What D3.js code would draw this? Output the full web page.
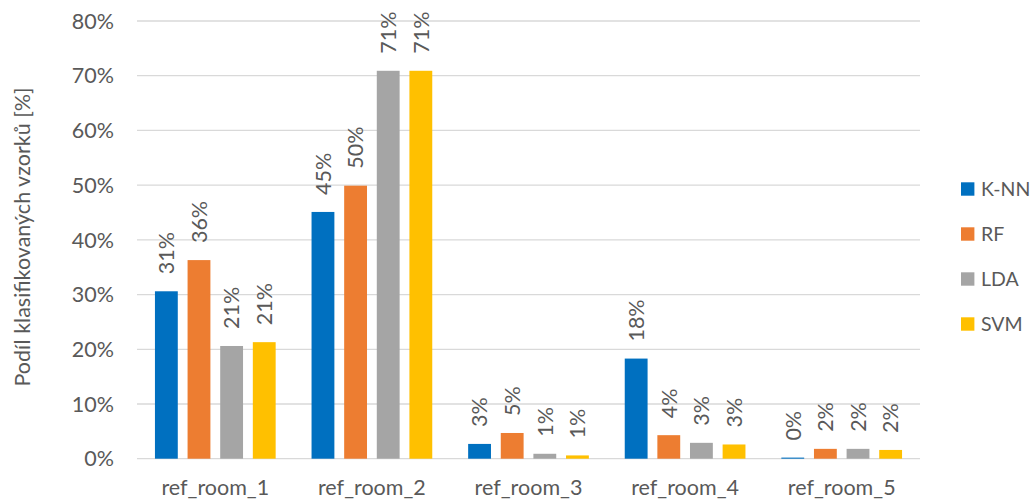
<!DOCTYPE html>
<html>
<head>
<meta charset="utf-8">
<script src="https://cdn.jsdelivr.net/npm/d3@7"></script>
<style>
  html, body { margin: 0; padding: 0; background: #fff; }
  svg { display: block; font-family: Lato, "Open Sans", sans-serif; }
</style>
</head>
<body>
<svg id="chart" width="1032" height="502"></svg>
<script>
// Rooms on the x axis
const categories = ["ref_room_1", "ref_room_2", "ref_room_3", "ref_room_4", "ref_room_5"];
// Classifier names (legend order)
const seriesNames = ["K-NN", "RF", "LDA", "SVM"];
// Share of classified samples [%] per classifier, one value per room
const knn = [30.6, 45.1, 2.7, 18.3, 0.2];
const rf  = [36.3, 49.9, 4.7, 4.3, 1.8];
const lda = [20.6, 70.9, 0.9, 2.9, 1.8];
const svm = [21.3, 70.9, 0.6, 2.6, 1.6];
// Y axis ticks
const yTicks = [0, 10, 20, 30, 40, 50, 60, 70, 80];
const yTitle = "Podíl klasifikovaných vzorků [%]";

const seriesValues = [knn, rf, lda, svm];
const colors = ["#0070c0", "#ed7d31", "#a5a5a5", "#ffc000"];
const textColor = "#595959";
const fontSize = 21.5;

const svg = d3.select("#chart");
const plot = { left: 137, right: 920, top: 21, bottom: 458.7 };

const x0 = d3.scaleBand().domain(categories).range([plot.left, plot.right]);
const x1 = d3.scaleBand().domain(seriesNames).range([0, x0.bandwidth()])
  .paddingInner(0.3).paddingOuter(0.55);
const y = d3.scaleLinear().domain([0, 80]).range([plot.bottom, plot.top]);

// Horizontal gridlines
svg.append("g").selectAll("line").data(yTicks).join("line")
  .attr("x1", plot.left).attr("x2", plot.right)
  .attr("y1", d => y(d)).attr("y2", d => y(d))
  .attr("stroke", "#d9d9d9").attr("stroke-width", 1.3);

// Y tick labels
svg.append("g").selectAll("text").data(yTicks).join("text")
  .attr("x", 114).attr("y", d => y(d)).attr("dy", "0.36em")
  .attr("text-anchor", "end").attr("font-size", fontSize).attr("fill", textColor)
  .text(d => d + "%");

// Y axis title
svg.append("text")
  .attr("transform", "translate(22,237) rotate(-90)")
  .attr("text-anchor", "middle").attr("dy", "0.36em")
  .attr("font-size", fontSize).attr("fill", textColor)
  .text(yTitle);

// X category labels
svg.append("g").selectAll("text").data(categories).join("text")
  .attr("x", d => x0(d) + x0.bandwidth() / 2).attr("y", 495)
  .attr("text-anchor", "middle").attr("font-size", fontSize).attr("fill", textColor)
  .text(d => d);

// Bars and rotated value labels
const rows = categories.map((c, i) => ({
  cat: c,
  vals: seriesNames.map((s, j) => ({ s, j, v: seriesValues[j][i] }))
}));

const groups = svg.append("g").selectAll("g").data(rows).join("g")
  .attr("transform", d => `translate(${x0(d.cat)},0)`);

groups.selectAll("rect").data(d => d.vals).join("rect")
  .attr("x", d => x1(d.s)).attr("width", x1.bandwidth())
  .attr("y", d => y(d.v)).attr("height", d => y(0) - y(d.v))
  .attr("fill", d => colors[d.j]);

groups.selectAll("text").data(d => d.vals).join("text")
  .attr("transform", d => `translate(${x1(d.s) + x1.bandwidth() / 2},${y(d.v) - 17}) rotate(-90)`)
  .attr("dy", "0.36em").attr("text-anchor", "start")
  .attr("font-size", fontSize).attr("fill", textColor)
  .text(d => Math.round(d.v) + "%");

// Legend
const legend = svg.append("g").selectAll("g").data(seriesNames).join("g")
  .attr("transform", (d, i) => `translate(961,${182.3 + i * 45})`);
legend.append("rect").attr("width", 13.4).attr("height", 13.4)
  .attr("fill", (d, i) => colors[i]);
legend.append("text").attr("x", 20).attr("y", 6.7).attr("dy", "0.36em")
  .attr("font-size", 19.5).attr("fill", textColor).text(d => d);
</script>
</body>
</html>
